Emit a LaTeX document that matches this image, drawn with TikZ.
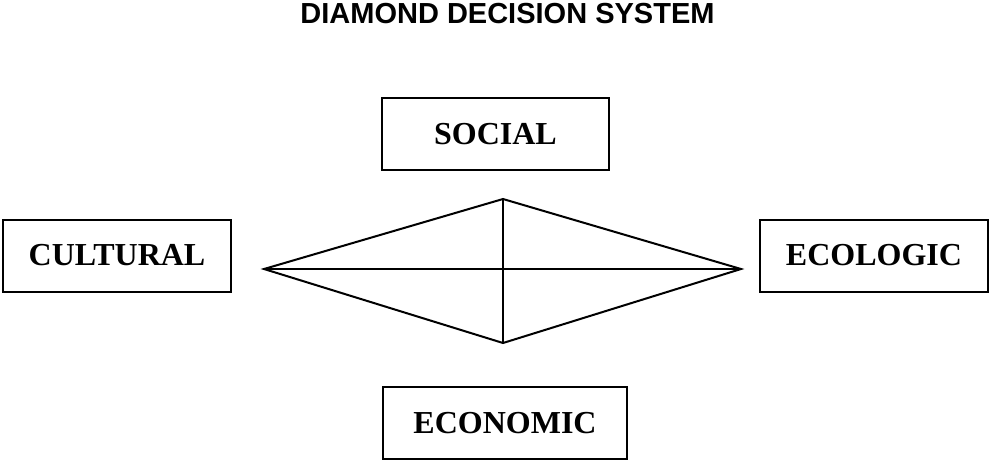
\documentclass[tikz,border=0pt]{standalone}
\usepackage{fontspec}
\setmainfont{Liberation Serif}
\newfontfamily\titlefont{Liberation Sans}

\begin{document}
\begin{tikzpicture}[x=0.75pt,y=-0.75pt,
    pillar/.style={draw,line width=1.5pt,minimum height=54pt,inner sep=0pt,
        font=\fontsize{24}{28}\selectfont\bfseries}]
    \useasboundingbox (0,0) rectangle (989,461);
    \node (title) at (507.5,14) {\titlefont\fontsize{21.75}{26}\selectfont\bfseries DIAMOND DECISION SYSTEM};
    \node[pillar,minimum width=170pt] (social) at (495.5,134) {SOCIAL};
    \node[pillar,minimum width=171pt] (cultural) at (117,255.5) {CULTURAL};
    \node[pillar,minimum width=171pt] (ecologic) at (874,255.5) {ECOLOGIC};
    \node[pillar,minimum width=183pt] (economic) at (505,423) {ECONOMIC};
    % the diamond
    \coordinate (dtop) at (503,199);
    \coordinate (dbottom) at (503,343);
    \coordinate (dleft) at (264,269);
    \coordinate (dright) at (741,269);
    \draw[line width=1.5pt] (dleft) -- (dtop) -- (dright) -- (dbottom) -- cycle;
    \draw[line width=1.5pt] (dleft) -- (dright);
    \draw[line width=1.5pt] (dtop) -- (dbottom);
\end{tikzpicture}
\end{document}
